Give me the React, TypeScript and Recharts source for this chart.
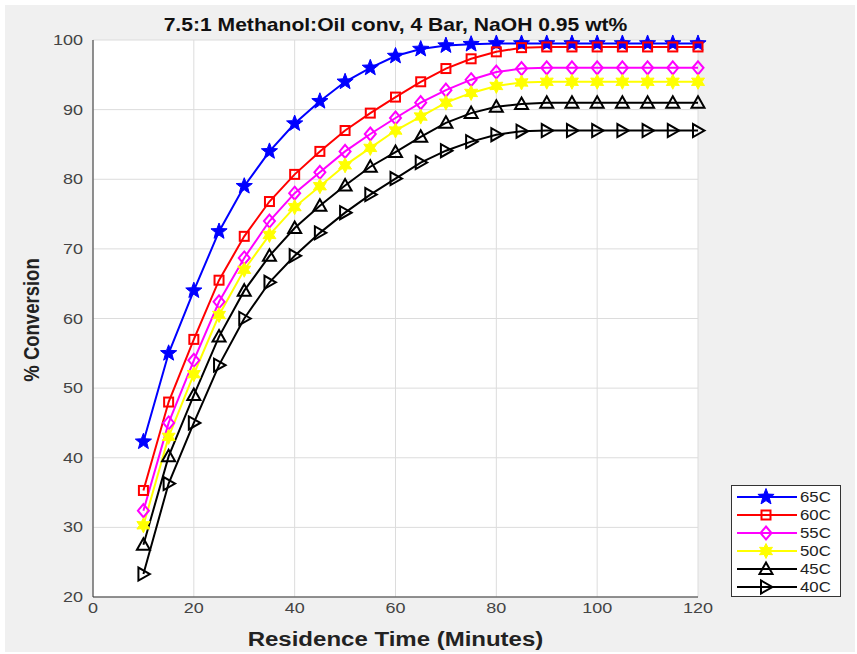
import React from "react";
import {
  LineChart,
  Line,
  XAxis,
  YAxis,
  CartesianGrid,
} from "recharts";

// residence time (minutes)
const times = [10, 15, 20, 25, 30, 35, 40, 45, 50, 55, 60, 65, 70, 75, 80, 85, 90, 95, 100, 105, 110, 115, 120];

const conv65 = [42.3, 55, 64, 72.5, 79, 84, 88, 91.2, 94, 96, 97.7, 98.7, 99.2, 99.4, 99.5, 99.5, 99.5, 99.5, 99.5, 99.5, 99.5, 99.5, 99.5];
const conv60 = [35.3, 48, 57, 65.5, 71.8, 76.8, 80.7, 84, 87, 89.5, 91.8, 94, 95.9, 97.3, 98.3, 98.9, 99, 99, 99, 99, 99, 99, 99];
const conv55 = [32.4, 45, 54, 62.4, 68.7, 74, 78, 81, 84, 86.5, 88.8, 91, 92.8, 94.3, 95.4, 95.9, 96, 96, 96, 96, 96, 96, 96];
const conv50 = [30.3, 43, 52, 60.5, 67, 72, 76, 79, 82, 84.5, 87, 89, 91, 92.4, 93.4, 93.9, 94, 94, 94, 94, 94, 94, 94];
const conv45 = [27.5, 40.2, 49, 57.4, 64, 69, 73, 76.2, 79.1, 81.8, 83.9, 86.1, 88.1, 89.5, 90.4, 90.8, 91, 91, 91, 91, 91, 91, 91];
const conv40 = [23.3, 36.3, 45, 53.3, 60, 65.2, 69, 72.3, 75.2, 77.8, 80.1, 82.4, 84.1, 85.4, 86.4, 86.9, 87, 87, 87, 87, 87, 87, 87];

const xTicks = [0, 20, 40, 60, 80, 100, 120];
const yTicks = [20, 30, 40, 50, 60, 70, 80, 90, 100];

type Marker = "star" | "square" | "diamond" | "hexagram" | "triUp" | "triRight";

const series: { key: string; name: string; values: number[]; color: string; marker: Marker }[] = [
  { key: "c65", name: "65C", values: conv65, color: "#0000ff", marker: "star" },
  { key: "c60", name: "60C", values: conv60, color: "#ff0000", marker: "square" },
  { key: "c55", name: "55C", values: conv55, color: "#ff00ff", marker: "diamond" },
  { key: "c50", name: "50C", values: conv50, color: "#ffff00", marker: "hexagram" },
  { key: "c45", name: "45C", values: conv45, color: "#000000", marker: "triUp" },
  { key: "c40", name: "40C", values: conv40, color: "#000000", marker: "triRight" },
];

const data = times.map((t, i) => {
  const row: Record<string, number> = { t };
  series.forEach((s) => {
    row[s.key] = s.values[i];
  });
  return row;
});

// the picture is a bit stretched sideways, so text gets widened too
const STRETCH = 1.2;
const font = "'Liberation Sans', Arial, sans-serif";

function starPath(cx: number, cy: number, n: number, R: number, r: number) {
  const pts: string[] = [];
  for (let i = 0; i < n * 2; i++) {
    const a = -Math.PI / 2 + (i * Math.PI) / n;
    const rad = i % 2 === 0 ? R : r;
    pts.push(`${(cx + rad * Math.cos(a)).toFixed(2)},${(cy + rad * Math.sin(a)).toFixed(2)}`);
  }
  return "M" + pts.join("L") + "Z";
}

function MarkerShape({ cx, cy, marker, color }: { cx: number; cy: number; marker: Marker; color: string }) {
  if (cx == null || cy == null) return null;
  switch (marker) {
    case "star":
      return <path d={starPath(cx, cy, 5, 8.5, 3.6)} fill={color} stroke={color} strokeWidth={1} />;
    case "square":
      return <rect x={cx - 4.5} y={cy - 4.5} width={9} height={9} fill="none" stroke={color} strokeWidth={2} />;
    case "diamond":
      return (
        <path
          d={`M${cx},${cy - 6.5}L${cx + 5.5},${cy}L${cx},${cy + 6.5}L${cx - 5.5},${cy}Z`}
          fill="none"
          stroke={color}
          strokeWidth={2}
        />
      );
    case "hexagram":
      return <path d={starPath(cx, cy, 6, 7.5, 4)} fill={color} stroke={color} strokeWidth={1} />;
    case "triUp":
      return (
        <path
          d={`M${cx},${cy - 6.5}L${cx + 6.5},${cy + 5}L${cx - 6.5},${cy + 5}Z`}
          fill="none"
          stroke={color}
          strokeWidth={2}
        />
      );
    case "triRight":
      return (
        <path
          d={`M${cx + 6.5},${cy}L${cx - 5},${cy - 6.5}L${cx - 5},${cy + 6.5}Z`}
          fill="none"
          stroke={color}
          strokeWidth={2}
        />
      );
  }
  return null;
}

function XTick({ x, y, payload }: any) {
  return (
    <text
      transform={`translate(${x},${y}) scale(${STRETCH},1)`}
      textAnchor="middle"
      dy={12}
      fill="#444"
      fontSize={15}
      fontFamily={font}
    >
      {payload.value}
    </text>
  );
}

function YTick({ x, y, payload }: any) {
  return (
    <text
      transform={`translate(${x},${y}) scale(${STRETCH},1)`}
      textAnchor="end"
      dy={5}
      fill="#444"
      fontSize={15}
      fontFamily={font}
    >
      {payload.value}
    </text>
  );
}

function LegendBox() {
  return (
    <div
      style={{
        position: "absolute",
        left: 731,
        top: 485,
        width: 110,
        height: 112,
        background: "#fff",
        border: "1px solid #333",
        boxSizing: "border-box",
      }}
    >
      <svg width={108} height={110} style={{ position: "absolute", left: 0, top: 0 }}>
        {series.map((s, i) => {
          const cy = 11 + i * 18;
          return (
            <g key={s.key}>
              <line x1={5} y1={cy} x2={65} y2={cy} stroke={s.color} strokeWidth={2} />
              <MarkerShape cx={34} cy={cy} marker={s.marker} color={s.color} />
              <text
                transform={`translate(68,${cy}) scale(${STRETCH},1)`}
                dy={5}
                fontSize={14}
                fontFamily={font}
                fill="#222"
              >
                {s.name}
              </text>
            </g>
          );
        })}
      </svg>
    </div>
  );
}

export default function App() {
  return (
    <div
      style={{
        position: "absolute",
        left: 0,
        top: 0,
        width: 857,
        height: 654,
        background: "#fff",
      }}
    >
      <div
        style={{
          position: "absolute",
          left: 5,
          top: 5,
          width: 850,
          height: 647,
          background: "#f0f0f0",
        }}
      />
      <div style={{ position: "absolute", left: 0, top: 0 }}>
        <LineChart
          width={857}
          height={654}
          data={data}
          margin={{ top: 40, right: 159, bottom: 27, left: 43 }}
        >
          <CartesianGrid stroke="#dcdcdc" strokeWidth={1} fill="#fff" />
          <XAxis
            dataKey="t"
            type="number"
            domain={[0, 120]}
            ticks={xTicks}
            stroke="#333"
            tickLine={false}
            tick={<XTick />}
            tickSize={0}
            tickMargin={4}
            height={30}
          />
          <XAxis
            xAxisId="top"
            orientation="top"
            dataKey="t"
            type="number"
            domain={[0, 120]}
            ticks={xTicks}
            stroke="#333"
            tick={false}
            tickLine={false}
            height={0}
          />
          <YAxis
            type="number"
            domain={[20, 100]}
            ticks={yTicks}
            stroke="#333"
            tickLine={false}
            tick={<YTick />}
            tickSize={0}
            tickMargin={10}
            width={50}
          />
          <YAxis
            yAxisId="right"
            orientation="right"
            type="number"
            domain={[20, 100]}
            ticks={yTicks}
            stroke="#333"
            tick={false}
            tickLine={false}
            width={0}
          />
          {series.map((s) => (
            <Line
              key={s.key}
              dataKey={s.key}
              name={s.name}
              type="linear"
              stroke={s.color}
              strokeWidth={2}
              isAnimationActive={false}
              dot={(p: any) => (
                <MarkerShape key={`${s.key}-${p.index}`} cx={p.cx} cy={p.cy} marker={s.marker} color={s.color} />
              )}
              activeDot={false}
            />
          ))}
        </LineChart>
      </div>
      <LegendBox />
      <div
        style={{
          position: "absolute",
          left: 93,
          width: 605,
          top: 14,
          textAlign: "center",
          fontFamily: font,
          fontWeight: "bold",
          fontSize: 19,
          color: "#111",
          whiteSpace: "nowrap",
          transform: "scaleX(1.11)",
        }}
      >
        7.5:1 Methanol:Oil conv, 4 Bar, NaOH 0.95 wt%
      </div>
      <div
        style={{
          position: "absolute",
          left: 93,
          width: 605,
          top: 628,
          textAlign: "center",
          fontFamily: font,
          fontWeight: "bold",
          fontSize: 20,
          color: "#222",
          whiteSpace: "nowrap",
          transform: `scaleX(${STRETCH})`,
        }}
      >
        Residence Time (Minutes)
      </div>
      <div
        style={{
          position: "absolute",
          left: 32,
          top: 320,
          transform: "translate(-50%, -50%) rotate(-90deg) scaleY(1.15)",
          whiteSpace: "nowrap",
          fontFamily: font,
          fontWeight: "bold",
          fontSize: 18.5,
          color: "#222",
        }}
      >
        % Conversion
      </div>
    </div>
  );
}
